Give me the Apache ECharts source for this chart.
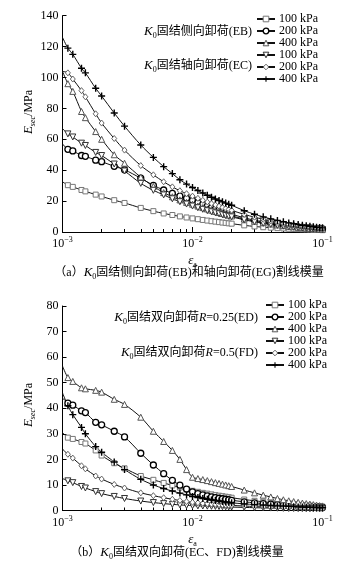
<!DOCTYPE html>
<html><head><meta charset="utf-8">
<script src="https://cdn.jsdelivr.net/npm/echarts@6/dist/echarts.min.js"></script>
<style>html,body{margin:0;padding:0;background:#fff}#c{width:364px;height:566px}</style>
</head><body><div id="c"></div>
<script>
// ---- data ----
const strain = [0.001,0.0011,0.0012,0.0014,0.0015,0.0018,0.002,0.0025,0.003,0.004,0.005,0.006,0.007,0.008,0.009,0.01,
  0.011,0.012,0.013,0.014,0.015,0.016,0.017,0.018,0.019,0.02,0.025,0.03,0.035,0.04,0.045,0.05,0.055,0.06,0.065,0.07,
  0.075,0.08,0.085,0.09,0.095,0.1];
// (a) EB: K0 consolidated lateral unloading; EC: axial unloading
const EB100 = [32.5,30.3,29.2,27.2,26.3,24.2,23,20.6,18.8,15.6,13.5,12,11,10.1,9.4,8.8,8.3,7.8,7.4,7.0,6.7,6.4,6.1,5.9,5.6,5.4,4.3,3.6,3.1,2.8,2.5,2.3,2.1,2.0,1.9,1.8,1.7,1.6,1.5,1.4,1.3,1.2];
const EB200 = [57,53.5,52.5,49.5,49,46.5,45.5,42.5,40.3,34.8,30.2,27.2,25,23.2,21.8,20.5,19.1,17.9,16.8,15.8,14.9,14.1,13.4,12.7,12.1,11.5,9.2,7.6,6.5,5.6,5,4.4,4,3.6,3.3,3,2.8,2.6,2.4,2.2,2.1,2.0];
const EB400 = [104,96,91,78,74,65,60,50,44.5,35.5,29.5,25.5,22.8,20.8,19.2,18,16.8,15.8,14.9,14.1,13.3,12.6,12,11.4,10.9,10.4,8.4,7,6,5.2,4.6,4.1,3.7,3.4,3.1,2.8,2.6,2.4,2.2,2.1,1.9,1.8];
const EC100 = [67,63.5,61.5,57.5,56,51.5,49.5,44,39.5,31.5,27,24,21.5,19.6,18.1,16.8,15.7,14.7,13.8,13.1,12.4,11.8,11.2,10.7,10.2,9.8,7.9,6.6,5.6,4.9,4.3,3.8,3.4,3.1,2.8,2.6,2.4,2.2,2.0,1.9,1.8,1.6];
const EC200 = [104,103,99,91.5,87.5,76.5,70.5,60.5,53,43,37,32.5,29.2,26.7,24.8,23.2,21.8,20.5,19.4,18.4,17.5,16.7,15.9,15.2,14.6,14,11.4,9.6,8.2,7.1,6.3,5.6,5,4.6,4.2,3.8,3.5,3.3,3.1,2.9,2.7,2.5];
const EC400 = [126,119,115,106,103,93,88,77,68.5,56.3,48.3,42.3,37.8,33.8,31,28.8,26.9,25.2,23.8,22.5,21.4,20.4,19.5,18.7,18,17.3,13.8,11.5,9.8,8.5,7.5,6.6,5.9,5.3,4.8,4.4,4,3.7,3.4,3.1,2.9,2.7];
// (b) ED: R=0.25; FD: R=0.5
const ED100 = [30.5,28.5,28,26.8,26.2,23.5,21.5,18.5,16.5,13.5,12,10.8,9.8,9,8.3,7.7,7.3,6.9,6.6,6.3,6,5.8,5.6,5.4,5.2,5,4.3,3.8,3.4,3.1,2.8,2.6,2.4,2.3,2.2,2.1,2.0,1.9,1.8,1.7,1.6,1.5];
const ED200 = [44,42,41.2,39,38.3,34.5,33.5,31,28.8,22.4,17.8,14.4,11.8,9.9,8.4,7.3,6.6,6.1,5.7,5.3,5.0,4.8,4.6,4.4,4.2,4.0,3.4,3.0,2.7,2.5,2.3,2.1,2.0,1.9,1.8,1.7,1.6,1.5,1.4,1.4,1.3,1.2];
const ED400 = [56.5,52,50.5,48,47.6,47,46.3,43.5,41.5,36.5,31,27,23.5,20,16,13,12.5,12.1,11.7,11.3,10.9,10.6,10.3,10,9.7,9.4,8,6.9,6,5.3,4.7,4.2,3.8,3.5,3.2,2.9,2.7,2.5,2.3,2.1,1.9,1.8];
const FD100 = [12.5,11.6,10.9,9.4,8.8,7.4,6.6,5.5,4.7,3.7,3.1,2.7,2.4,2.2,2.0,1.9,1.8,1.75,1.7,1.65,1.6,1.55,1.5,1.45,1.4,1.35,1.2,1.1,1.0,0.95,0.9,0.85,0.8,0.8,0.75,0.75,0.7,0.7,0.65,0.65,0.6,0.6];
const FD200 = [24,22,20.5,17.5,16.3,13.5,12.3,10.2,8.8,6.9,5.8,5.0,4.4,3.9,3.5,3.2,3.0,2.8,2.65,2.5,2.4,2.3,2.2,2.1,2.05,2.0,1.75,1.55,1.4,1.3,1.2,1.1,1.05,1.0,0.95,0.9,0.9,0.85,0.85,0.8,0.8,0.75];
const FD400 = [46,41,37.5,32.5,30,25,22.8,19,16,12.2,10,8.6,7.6,6.8,6.1,5.5,5.1,4.7,4.4,4.1,3.9,3.7,3.5,3.3,3.2,3.0,2.6,2.3,2.1,1.9,1.8,1.7,1.6,1.5,1.4,1.35,1.3,1.25,1.2,1.15,1.1,1.05];
const pressures = ['100 kPa','200 kPa','400 kPa'];
const xMajorTicks = [0.001, 0.01, 0.1];
const xMinorTicks = [0.002,0.003,0.004,0.005,0.006,0.007,0.008,0.009,0.02,0.03,0.04,0.05,0.06,0.07,0.08,0.09];
const yTopMax = 140, yTopStep = 20;
const yBotMax = 80, yBotStep = 10;

// ---- styles ----
const SERIF = '"Liberation Serif","Times New Roman",serif';
const MIX = '"Liberation Serif","Noto Sans CJK SC",serif';
const PLUS = 'path://M4,0H6V4H10V6H6V10H4V6H0V4H4Z';
const markerStyles = [
  {symbol:'rect', size:5, rot:0, fill:'#fff', border:'#777', bw:1},
  {symbol:'circle', size:6, rot:0, fill:'#fff', border:'#000', bw:1.3},
  {symbol:'triangle', size:6, rot:0, fill:'#fff', border:'#555', bw:1},
  {symbol:'triangle', size:6, rot:180, fill:'#fff', border:'#333', bw:1},
  {symbol:'diamond', size:[5,6], rot:0, fill:'#fff', border:'#555', bw:0.9},
  {symbol:PLUS, size:7, rot:0, fill:'#000', border:'#000', bw:0}
];

function mk(name, vals, ms, idx) {
  return {
    name: name, type: 'line', xAxisIndex: idx, yAxisIndex: idx,
    smooth: 0.3, symbol: ms.symbol, symbolSize: ms.size, symbolRotate: ms.rot,
    data: strain.map((x, i) => ({value: [x, vals[i]], symbol: i === 0 ? 'none' : ms.symbol})),
    lineStyle: {color: '#111', width: 1},
    itemStyle: {color: ms.fill, borderColor: ms.border, borderWidth: ms.bw},
    emphasis: {disabled: true}
  };
}
const topSets = [EB100, EB200, EB400, EC100, EC200, EC400];
const botSets = [ED100, ED200, ED400, FD100, FD200, FD400];
const topNames = topSets.map((_, i) => pressures[i % 3] + '|a' + i);
const botNames = botSets.map((_, i) => pressures[i % 3] + '|b' + i);
const series = [];
topSets.forEach((v, i) => series.push(mk(topNames[i], v, markerStyles[i], 0)));
botSets.forEach((v, i) => series.push(mk(botNames[i], v, markerStyles[i], 1)));

const supRich = {
  b: {fontFamily: SERIF, fontSize: 12, color: '#000', lineHeight: 16},
  s: {fontFamily: SERIF, fontSize: 8, color: '#000', verticalAlign: 'top'}
};
function xMain(gi) {
  return {
    type: 'log', logBase: 10, gridIndex: gi, min: 0.001, max: 0.1, position: 'bottom',
    axisLine: {lineStyle: {color: '#000', width: 1}},
    axisTick: {inside: true, length: 5, customValues: xMajorTicks, lineStyle: {color: '#000'}},
    axisLabel: {customValues: xMajorTicks, margin: 4,
      formatter: v => { const e = Math.round(Math.log10(v)); return '{b|10}{s|' + (e < 0 ? '\u2212' : '') + Math.abs(e) + '}'; },
      rich: supRich},
    splitLine: {show: false},
    name: '{i|\u03b5}{s|a}', nameLocation: 'middle', nameGap: 21,
    nameTextStyle: {rich: {
      i: {fontFamily: SERIF, fontStyle: 'italic', fontSize: 13, color: '#000', lineHeight: 16},
      s: {fontFamily: SERIF, fontSize: 8, color: '#000', verticalAlign: 'bottom'}
    }}
  };
}
function xMinor(gi) {
  return {
    type: 'log', logBase: 10, gridIndex: gi, min: 0.001, max: 0.1, position: 'bottom',
    axisLine: {show: false}, axisLabel: {show: false}, splitLine: {show: false},
    axisTick: {inside: true, length: 3, customValues: xMinorTicks, lineStyle: {color: '#000'}}
  };
}
function yAx(gi, max, step) {
  return {
    type: 'value', gridIndex: gi, min: 0, max: max, interval: step,
    axisLine: {show: true, lineStyle: {color: '#000', width: 1}},
    axisTick: {show: true, inside: true, length: 4, lineStyle: {color: '#000'}},
    axisLabel: {fontFamily: SERIF, fontSize: 12, color: '#000', margin: 4},
    splitLine: {show: false}
  };
}
function legendFor(names, left, top) {
  return {
    data: names.map((n, i) => ({name: n, itemStyle: {color: markerStyles[i].fill, borderColor: markerStyles[i].border, borderWidth: markerStyles[i].bw}})),
    orient: 'vertical', left: left, top: top, padding: 0,
    itemWidth: 18, itemHeight: 7, itemGap: 0, selectedMode: false,
    formatter: n => n.split('|')[0],
    textStyle: {fontFamily: SERIF, fontSize: 12, color: '#000', padding: [0, 0, 0, -1]}
  };
}
const labRich = {
  k: {fontFamily: SERIF, fontStyle: 'italic', fontSize: 13, fill: '#000', lineHeight: 16},
  s: {fontFamily: SERIF, fontSize: 8, fill: '#000', verticalAlign: 'bottom'},
  si: {fontFamily: SERIF, fontStyle: 'italic', fontSize: 8, fill: '#000', verticalAlign: 'bottom'},
  r: {fontFamily: SERIF, fontStyle: 'italic', fontSize: 12, fill: '#000', lineHeight: 16},
  n: {fontFamily: SERIF, fontSize: 12, fill: '#000', lineHeight: 16},
  t: {fontFamily: MIX, fontSize: 12, fill: '#000', lineHeight: 16}
};
function txt(text, x, y, align, rot) {
  return {type: 'text', x: x, y: y, rotation: rot || 0,
    style: {text: text, rich: labRich, align: align, verticalAlign: 'middle', fill: '#000', fontFamily: MIX, fontSize: 12}};
}

const option = {
  animation: false,
  backgroundColor: '#fff',
  grid: [
    {left: 62.5, right: 41.5, top: 15.7, height: 216.3},
    {left: 62.5, right: 41.5, top: 306, height: 204.5}
  ],
  xAxis: [xMain(0), xMain(1), xMinor(0), xMinor(1)],
  yAxis: [yAx(0, yTopMax, yTopStep), yAx(1, yBotMax, yBotStep)],
  legend: [legendFor(topNames, 256, 13), legendFor(botNames, 265, 299)],
  series: series,
  graphic: [
    txt('{k|E}{si|sec}{n|/MPa}', 29, 112, 'center', Math.PI / 2),
    txt('{k|E}{si|sec}{n|/MPa}', 29, 405, 'center', Math.PI / 2),
    txt('{k|K}{s|0}{t|固结侧向卸荷(EB)}', 252, 31.7, 'right'),
    txt('{k|K}{s|0}{t|固结轴向卸荷(EC)}', 252, 66, 'right'),
    txt('{k|K}{s|0}{t|固结双向卸荷}{r|R}{t|=0.25(ED)}', 258, 317.7, 'right'),
    txt('{k|K}{s|0}{t|固结双向卸荷}{r|R}{t|=0.5(FD)}', 258, 352.7, 'right'),
    txt('{t|（a）}{k|K}{s|0}{t|固结侧向卸荷(EB)和轴向卸荷(EG)割线模量}', 189, 273, 'center'),
    txt('{t|（b）}{k|K}{s|0}{t|固结双向卸荷(EC、FD)割线模量}', 177, 553, 'center')
  ]
};
const chart = echarts.init(document.getElementById('c'), null, {renderer: 'canvas'});
chart.setOption(option);
</script></body></html>
